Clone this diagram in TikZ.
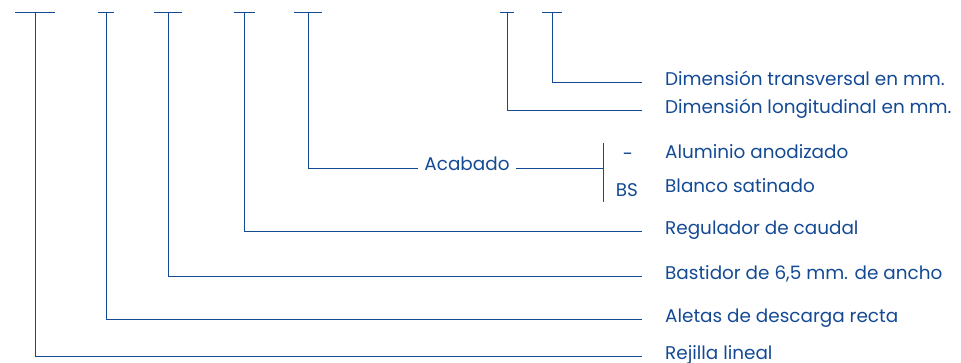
\documentclass[tikz,border=0pt]{standalone}
\usepackage{fontspec}
\setmainfont{Poppins}
\usetikzlibrary{positioning}
\definecolor{codeblue}{RGB}{20,74,148}

\begin{document}
\begin{tikzpicture}[
  x=1pt, y=-1pt,
  lead/.style={draw=codeblue, line width=0.9pt},
  lbl/.style={anchor=west, inner xsep=23pt, inner ysep=0pt,
              text height=0.72em, text depth=0.05em},
  every node/.style={text=codeblue, font=\fontsize{18.4}{21}\selectfont}
]
\useasboundingbox (0,0) rectangle (961,363);
\foreach \n/\x/\w in {1/35/40, 2/106/16, 3/168/28, 4/244/21, 5/308/28, 6/507/14, 7/552/20}{
  \coordinate (t\n) at (\x,12);
  \draw[lead] (\x-\w/2,12) -- (\x+\w/2,12);
}
\node[lbl] (trans) at (642,82) {Dimensión transversal en mm.};
\node[lbl] (longi) at (642,110) {Dimensión longitudinal en mm.};
\node[lbl] (alum) at (642,155) {Aluminio anodizado};
\node[lbl] (blanco) at (642,189) {Blanco satinado};
\node[lbl] (regul) at (642,231) {Regulador de caudal};
\node[lbl] (bastid) at (642,276) {Bastidor de 6,5 mm. de ancho};
\node[lbl] (aletas) at (642,319) {Aletas de descarga recta};
\node[lbl] (rejilla) at (642,356) {Rejilla lineal};
\node[inner xsep=6pt, text height=0.72em, text depth=0.25em] (acab) at (467,168) {Acabado};
\coordinate (bt) at (603,143);
\coordinate (bb) at (603,202);
\node (none) at (628,157) {-};
\node (bs) at (627,190) {BS};
\draw[lead] (bt) -- (bb);
\draw[lead] (acab) -- (acab -| bt);
\draw[lead] (t7) |- (trans);
\draw[lead] (t6) |- (longi);
\draw[lead] (t5) |- (acab);
\draw[lead] (t4) |- (regul);
\draw[lead] (t3) |- (bastid);
\draw[lead] (t2) |- (aletas);
\draw[lead] (t1) |- (rejilla);
\end{tikzpicture}
\end{document}
